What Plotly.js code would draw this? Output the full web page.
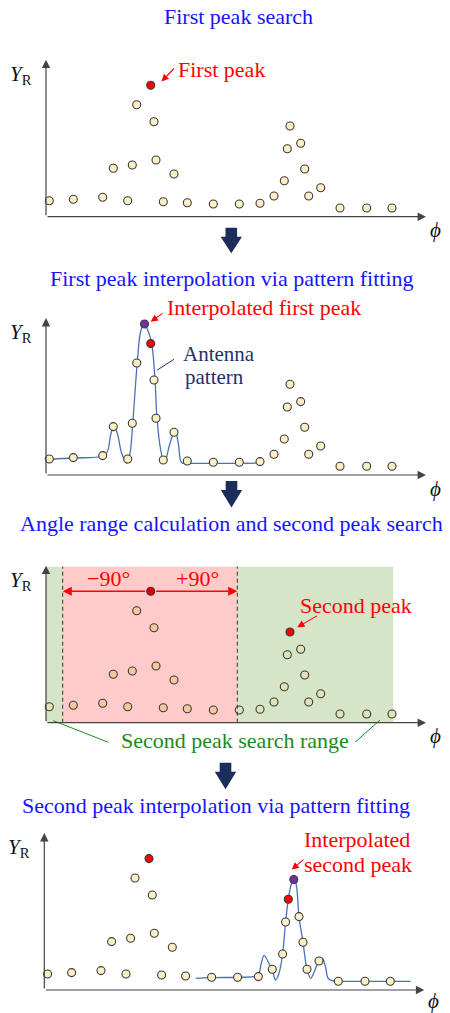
<!DOCTYPE html>
<html>
<head>
<meta charset="utf-8">
<script src="https://cdn.plot.ly/plotly-3.0.1.min.js"></script>
<style>
  html, body { margin: 0; padding: 0; background: #fff; }
  #chart { width: 450px; height: 1013px; }
</style>
</head>
<body>
<div id="chart"></div>
<script>
// Received level Y_R sampled over bearing φ (arbitrary units)
const phi = [3.3, 27.3, 56.7, 67.3, 81.7, 86.3, 90.7, 104.7, 108, 110, 117.3, 128, 141.3, 167.3,
             193.3, 214, 228, 238.3, 241.3, 244, 254.7, 258.7, 262.7, 274.7, 294, 320.7, 346];
const yR  = [16, 17.4, 19.4, 48.4, 16, 51.7, 112, 131.4, 95, 56.7, 15, 42.7, 14, 12.7,
             12.7, 13.4, 20.7, 36, 68, 90.7, 73.4, 47.7, 20.7, 29, 8.7, 8.7, 8.7];
const firstPeakIdx = 7;
const secondPeakIdx = 19;

// Antenna pattern fitted around the first peak
const pat1Phi = [-2, 3.3, 27.3, 56.7, 61.3, 65, 68, 71.3, 75.7, 80.7, 84, 86.7, 91.3, 95, 98.5,
                 101.7, 105.7, 109, 111, 114.7, 118.3, 124, 129, 132.3, 135.7, 142.3, 168.7, 195.3, 216];
const pat1Y   = [14.7, 15.7, 17, 19, 23.3, 41.7, 49, 41.7, 21.7, 11.7, 21.7, 51, 112.7, 145, 151,
                 145, 131.7, 95, 56.7, 25, 11.7, 31.7, 44.3, 31.7, 12.3, 11.7, 11.7, 11.7, 12];
const pat1Peak = {phi: 98.5, y: 151};

// Antenna pattern fitted around the second peak
const pat2Phi = [151.4, 166.7, 193.4, 209, 214, 217, 219.7, 222.4, 225.5, 228, 231.2, 234.5, 238.3,
                 241.3, 244, 247.2, 249.5, 251.8, 254.7, 258.7, 262.7, 266.4, 270.7, 274.7, 278,
                 281, 284, 289, 294, 321, 345.7, 366.4];
const pat2Y   = [11.7, 12.3, 12.7, 13.3, 15, 27, 34.7, 31, 25, 20.7, 10, 16, 36,
                 68, 90.7, 106.5, 110.5, 106, 73.4, 47.7, 20.7, 11.7, 20, 29, 31.5,
                 24, 11.5, 9, 8.7, 8.7, 8.7, 8.7];
const pat2Peak = {phi: 249.5, y: 110.5};

// ±90° window around the first peak and end of the scanned sector
const rangeLo = 16.7, rangeHi = 191.3;
const sectorEnd = 347.3, sectorTop = 156;

// ---------------------------------------------------------------------------
const W = 450, H = 1013;
const px = x => x / W;
const py = y => 1 - y / H;
const XSPAN = 380, YSPAN = 160;

const SERIF = 'Liberation Serif, Times New Roman, serif';
const BLUE = '#1414ff', RED = '#ff0000', NAVY = '#1f2f6e', GREEN = '#1a8c1a';
const CREAM = '#fcefc6', EDGE = '#3a3a3a', PURPLE = '#7030a0', CURVE = '#4a72b8';

// plot origins (left / baseline) of the four stages, and where each φ label sits below it
const panels = [
  {x0: 46,   y0: 216.7, phiDy: 13},
  {x0: 46,   y0: 475,   phiDy: 14},
  {x0: 46,   y0: 722.7, phiDy: 13},
  {x0: 44.3, y0: 990,   phiDy: 11}
];

const layout = {
  width: W, height: H,
  margin: {l: 0, r: 0, t: 0, b: 0},
  paper_bgcolor: '#ffffff',
  plot_bgcolor: 'rgba(0,0,0,0)',
  showlegend: false,
  annotations: [],
  shapes: []
};

function label(text, x, y, color, size, anchor) {
  layout.annotations.push({xref: 'paper', yref: 'paper', x: px(x), y: py(y), xanchor: anchor || 'center',
    yanchor: 'middle', text: text, showarrow: false, font: {family: SERIF, size: size, color: color}});
}

const ids = ['', '2', '3', '4'];
panels.forEach((p, i) => {
  const s = ids[i];
  layout['xaxis' + s] = {domain: [px(p.x0), px(p.x0 + XSPAN)], range: [0, XSPAN], visible: false,
                         fixedrange: true, anchor: 'y' + s};
  layout['yaxis' + s] = {domain: [py(p.y0), py(p.y0 - YSPAN)], range: [0, YSPAN], visible: false,
                         fixedrange: true, anchor: 'x' + s};
  const xr = 'x' + s, yr = 'y' + s;
  // axis arrows
  layout.annotations.push(
    {xref: xr, yref: yr, axref: xr, ayref: yr, x: XSPAN, y: 0, ax: 0, ay: 0, text: '',
     showarrow: true, arrowhead: 2, arrowsize: 1.4, arrowwidth: 1.2, arrowcolor: '#444'},
    {xref: xr, yref: yr, axref: xr, ayref: yr, x: 0, y: 157, ax: 0, ay: 0, text: '',
     showarrow: true, arrowhead: 2, arrowsize: 1.4, arrowwidth: 1.2, arrowcolor: '#444'}
  );
  // axis names
  label('<i>Y</i><sub>R</sub>', p.x0 - 25, p.y0 - 142, '#111', 21);
  label('<i>ϕ</i>', p.x0 + 389, p.y0 + p.phiDy, '#111', 21);
});

function pointer(hx, hy, dx, dy, color) {
  layout.annotations.push({xref: 'paper', yref: 'paper', x: px(hx), y: py(hy), ax: dx, ay: dy,
    text: '', showarrow: true, arrowhead: 2, arrowsize: 1.3, arrowwidth: 1.1, arrowcolor: color});
}
function blockArrow(cx, top, tip) {
  const sw = 5.8, hw = 10.7, hs = top + 9;
  const pts = [[cx - sw, top], [cx + sw, top], [cx + sw, hs], [cx + hw, hs], [cx, tip],
               [cx - hw, hs], [cx - sw, hs]];
  const d = 'M ' + pts.map(q => px(q[0]) + ',' + py(q[1])).join(' L ') + ' Z';
  layout.shapes.push({type: 'path', xref: 'paper', yref: 'paper', path: d,
    fillcolor: '#1b2d5b', line: {width: 0}});
}

// stage titles
label('First peak search', 238.7, 16, BLUE, 22);
label('First peak interpolation via pattern fitting', 231.7, 278.3, BLUE, 22);
label('Angle range calculation and second peak search', 231, 523.3, BLUE, 22);
label('Second peak interpolation via pattern fitting', 215.8, 805.7, BLUE, 22);

// flow arrows between stages
blockArrow(231.3, 227.7, 253.3);
blockArrow(231.5, 481, 507.5);
blockArrow(225.5, 762.7, 789.3);

// call-outs
label('First peak', 221.7, 69.3, RED, 22);
pointer(161.5, 81.5, 14, -14.5, RED);

label('Interpolated first peak', 263.5, 307.3, RED, 22);
pointer(150.7, 321.7, 13.3, -9.4, RED);
label('Antenna', 181, 353.8, NAVY, 21, 'left');
label('pattern', 182.5, 377.2, NAVY, 21, 'left');
layout.shapes.push({type: 'line', xref: 'paper', yref: 'paper', x0: px(174), y0: py(359.3),
  x1: px(157.3), y1: py(370), line: {color: NAVY, width: 1}});

label('−90°', 108.7, 578.3, RED, 22);
label('+90°', 197.7, 578.3, RED, 22);
label('Second peak', 355.5, 605, RED, 22);
pointer(297.3, 627.3, 21, -12.3, RED);
label('Second peak search range', 235, 740, GREEN, 22);
layout.shapes.push(
  {type: 'line', xref: 'paper', yref: 'paper', x0: px(53.3), y0: py(720.7), x1: px(108.3), y1: py(742.3),
   line: {color: GREEN, width: 1}},
  {type: 'line', xref: 'paper', yref: 'paper', x0: px(355), y0: py(742.3), x1: px(380), y1: py(720),
   line: {color: GREEN, width: 1}}
);

label('Interpolated', 357, 839, RED, 22);
label('second peak', 358, 864, RED, 22);
pointer(291.7, 869.5, 13.3, -11.2, RED);

// stage 3: search sector and ±90° exclusion window
layout.shapes.push(
  {type: 'rect', xref: 'x3', yref: 'y3', x0: 0, x1: sectorEnd, y0: 0, y1: sectorTop,
   fillcolor: '#d6e4c8', line: {width: 0}, layer: 'below'},
  {type: 'rect', xref: 'x3', yref: 'y3', x0: rangeLo, x1: rangeHi, y0: 0, y1: sectorTop,
   fillcolor: '#ffcaca', line: {width: 0}, layer: 'below'},
  {type: 'line', xref: 'x3', yref: 'y3', x0: rangeLo, x1: rangeLo, y0: 0, y1: sectorTop,
   line: {color: '#333', width: 1, dash: '4px,3px'}},
  {type: 'line', xref: 'x3', yref: 'y3', x0: rangeHi, x1: rangeHi, y0: 0, y1: sectorTop,
   line: {color: '#333', width: 1, dash: '4px,3px'}}
);
const pk = yR[firstPeakIdx], pkPhi = phi[firstPeakIdx];
[rangeLo, rangeHi].forEach(edge => {
  layout.annotations.push({xref: 'x3', yref: 'y3', axref: 'x3', ayref: 'y3', x: edge, y: pk,
    ax: pkPhi, ay: pk, text: '', showarrow: true, arrowhead: 2, arrowsize: 1.3, arrowwidth: 1.4,
    arrowcolor: RED, startstandoff: 4});
});

// ---------------------------------------------------------------------------
function samples(axis, colors) {
  return {type: 'scatter', mode: 'markers', x: phi, y: yR, xaxis: 'x' + axis, yaxis: 'y' + axis,
    marker: {size: 8, color: colors, line: {color: EDGE, width: 1.1}}, hoverinfo: 'skip', cliponaxis: false};
}
function pattern(axis, xs, ys) {
  return {type: 'scatter', mode: 'lines', x: xs, y: ys, xaxis: 'x' + axis, yaxis: 'y' + axis,
    line: {shape: 'spline', smoothing: 1, color: CURVE, width: 1.3}, hoverinfo: 'skip', cliponaxis: false};
}
function single(axis, x, y, color) {
  return {type: 'scatter', mode: 'markers', x: [x], y: [y], xaxis: 'x' + axis, yaxis: 'y' + axis,
    marker: {size: 8, color: color, line: {color: EDGE, width: 1.1}}, hoverinfo: 'skip', cliponaxis: false};
}

const c1 = phi.map((_, i) => i === firstPeakIdx ? RED : CREAM);
const c3 = phi.map((v, i) => {
  if (i === firstPeakIdx) return '#d80000';
  if (i === secondPeakIdx) return RED;
  return (v >= rangeLo && v <= rangeHi) ? '#f6c6a2' : '#dfe3b6';
});
const c4 = phi.map((_, i) => (i === firstPeakIdx || i === secondPeakIdx) ? RED : CREAM);

const data = [
  samples('', c1),
  pattern('2', pat1Phi, pat1Y),
  samples('2', c1),
  single('2', pat1Peak.phi, pat1Peak.y, PURPLE),
  samples('3', c3),
  pattern('4', pat2Phi, pat2Y),
  samples('4', c4),
  single('4', pat2Peak.phi, pat2Peak.y, PURPLE)
];

Plotly.newPlot('chart', data, layout, {staticPlot: true, displayModeBar: false});
</script>
</body>
</html>
